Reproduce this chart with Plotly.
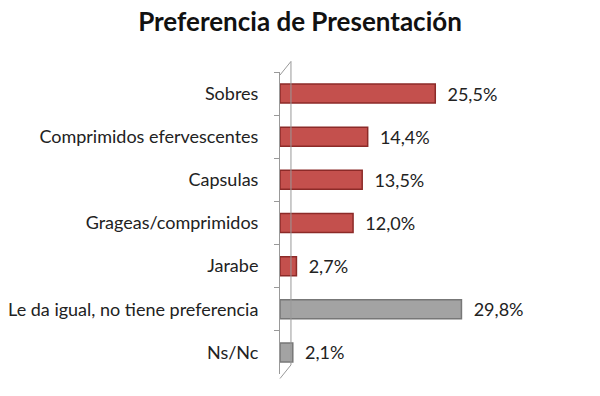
import plotly.graph_objects as go

categories = ["Sobres", "Comprimidos efervescentes", "Capsulas", "Grageas/comprimidos",
              "Jarabe", "Le da igual, no tiene preferencia", "Ns/Nc"]
values = [25.5, 14.4, 13.5, 12.0, 2.7, 29.8, 2.1]
labels = ["25,5%", "14,4%", "13,5%", "12,0%", "2,7%", "29,8%", "2,1%"]
groups = ["pref", "pref", "pref", "pref", "pref", "other", "other"]

fill = {"pref": "#C4504D", "other": "#A3A3A3"}
edge = {"pref": "#8C2A28", "other": "#777777"}
FONT = "Lato, Open Sans, sans-serif"

fig = go.Figure(go.Bar(
    y=categories, x=values, orientation="h",
    text=["  " + t for t in labels], textposition="outside", cliponaxis=False,
    constraintext="none",
    textfont=dict(family=FONT, size=18, color="#222"),
    marker=dict(color=[fill[g] for g in groups],
                line=dict(color=[edge[g] for g in groups], width=1.5)),
    width=0.44,
))

fig.update_layout(
    width=600, height=396,
    paper_bgcolor="white", plot_bgcolor="white",
    margin=dict(l=280, r=46, t=72, b=22, autoexpand=False),
    showlegend=False,
    title=dict(text="<b>Preferencia de Presentación</b>", x=0.5, xanchor="center",
               y=1 - 22 / 396, yanchor="middle", yref="container",
               font=dict(family=FONT, size=26, color="#111")),
    xaxis=dict(range=[0, 45], visible=False, automargin=False),
    yaxis=dict(autorange="reversed", showline=True, linecolor="#999", linewidth=1,
               ticks="outside", ticklen=5, tickcolor="#999", tickson="boundaries",
               ticklabelstandoff=17, automargin=False,
               tickfont=dict(family=FONT, size=18, color="#222")),
)

# 3D wall decoration
fig.add_shape(type="line", xref="paper", yref="paper", x0=0.04, x1=0.04, y0=0.03, y1=1.035,
              line=dict(color="#999", width=1))
fig.add_shape(type="line", xref="paper", yref="paper", x0=0, x1=0.04, y0=0.99, y1=1.035,
              line=dict(color="#999", width=1))
fig.add_shape(type="line", xref="paper", yref="paper", x0=0, x1=0.04, y0=-0.015, y1=0.03,
              line=dict(color="#999", width=1))

fig.write_html("out.html", config={"displayModeBar": False},
               post_script="document.body.style.margin='0';")
